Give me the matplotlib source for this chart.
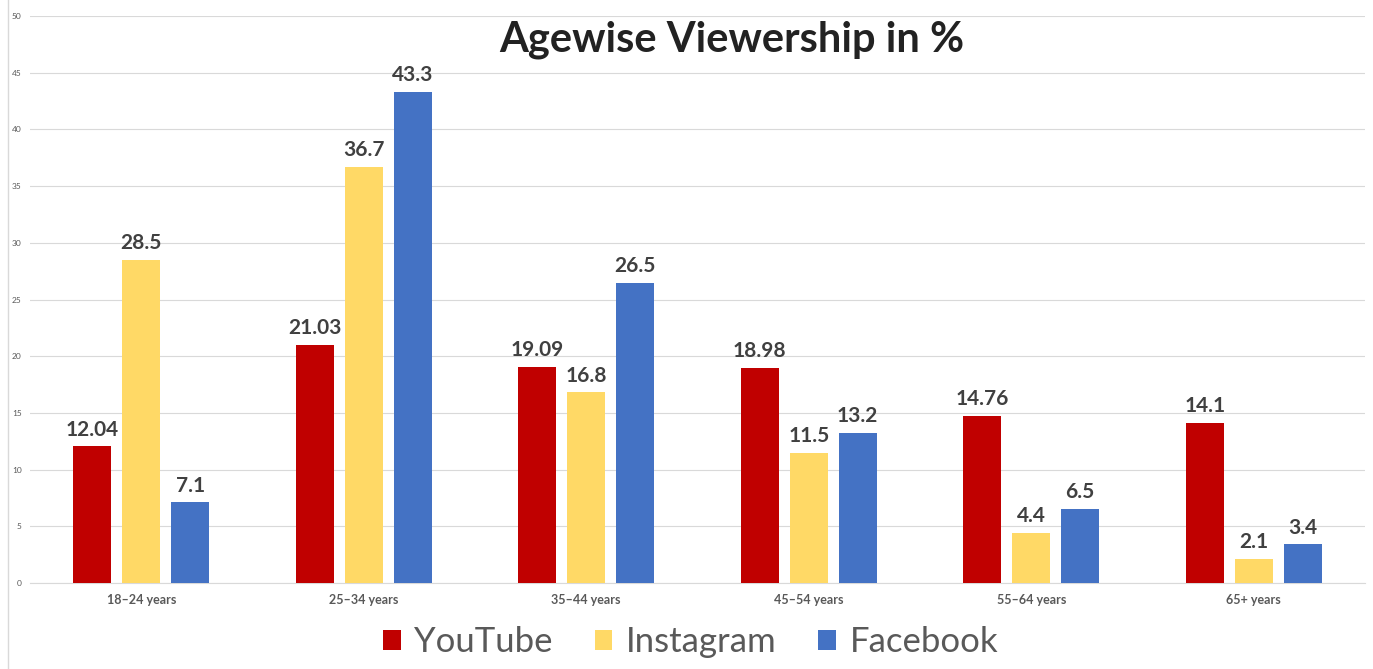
import matplotlib.pyplot as plt
import numpy as np
from matplotlib.lines import Line2D
from matplotlib.patches import Patch

plt.rcParams['font.family'] = ['Lato', 'DejaVu Sans']

# data
age_groups = ['18–24 years', '25–34 years', '35–44 years', '45–54 years', '55–64 years', '65+ years']
youtube = [12.04, 21.03, 19.09, 18.98, 14.76, 14.1]
instagram = [28.5, 36.7, 16.8, 11.5, 4.4, 2.1]
facebook = [7.1, 43.3, 26.5, 13.2, 6.5, 3.4]
series = ['YouTube', 'Instagram', 'Facebook']
colors = ['#C00000', '#FFD966', '#4472C4']

fig = plt.figure(figsize=(13.73, 6.69), dpi=100)
ax = fig.add_axes([0.0218, 0.1286, 0.9724, 0.8474])

x = np.arange(len(age_groups))
w = 0.171
step = 0.22
for i, (vals, c) in enumerate(zip([youtube, instagram, facebook], colors)):
    pos = x + (i - 1) * step
    ax.bar(pos, vals, width=w, color=c, zorder=3)
    for p, v in zip(pos, vals):
        ax.text(p, v + 0.6, f'{v:g}' if v != 12.04 else '12.04', ha='center', va='bottom',
                fontsize=15, fontweight='bold', color='#404040')

ax.set_xlim(-0.5, len(age_groups) - 0.5)
ax.set_ylim(0, 50)
ax.set_yticks(range(0, 51, 5))
ax.tick_params(axis='y', length=0, labelsize=6, labelcolor='#595959', pad=6)
ax.set_xticks(x)
ax.set_xticklabels(age_groups)
ax.tick_params(axis='x', length=0, labelsize=9, labelcolor='#595959', pad=8)
for lbl in ax.get_xticklabels():
    lbl.set_fontweight('bold')
ax.grid(axis='y', color='#d9d9d9', linewidth=0.8, zorder=0)
for s in ['top', 'right', 'left']:
    ax.spines[s].set_visible(False)
ax.spines['bottom'].set_color('#d9d9d9')

fig.text(0.533, 0.94, 'Agewise Viewership in %', ha='center', va='center',
         fontsize=30, fontweight='bold', color='#222222')

handles = [Patch(facecolor=c, label=s) for s, c in zip(series, colors)]
fig.legend(handles=handles, loc='center', bbox_to_anchor=(0.503, 0.04), ncol=3,
           frameon=False, fontsize=25, labelcolor='#595959',
           handlelength=0.5, handleheight=0.5, handletextpad=0.4, columnspacing=1.2)

fig.add_artist(Line2D([0.0055, 0.0055], [0, 1], transform=fig.transFigure,
                      color='#d9d9d9', linewidth=1))

fig.savefig('out.png', dpi=100)
